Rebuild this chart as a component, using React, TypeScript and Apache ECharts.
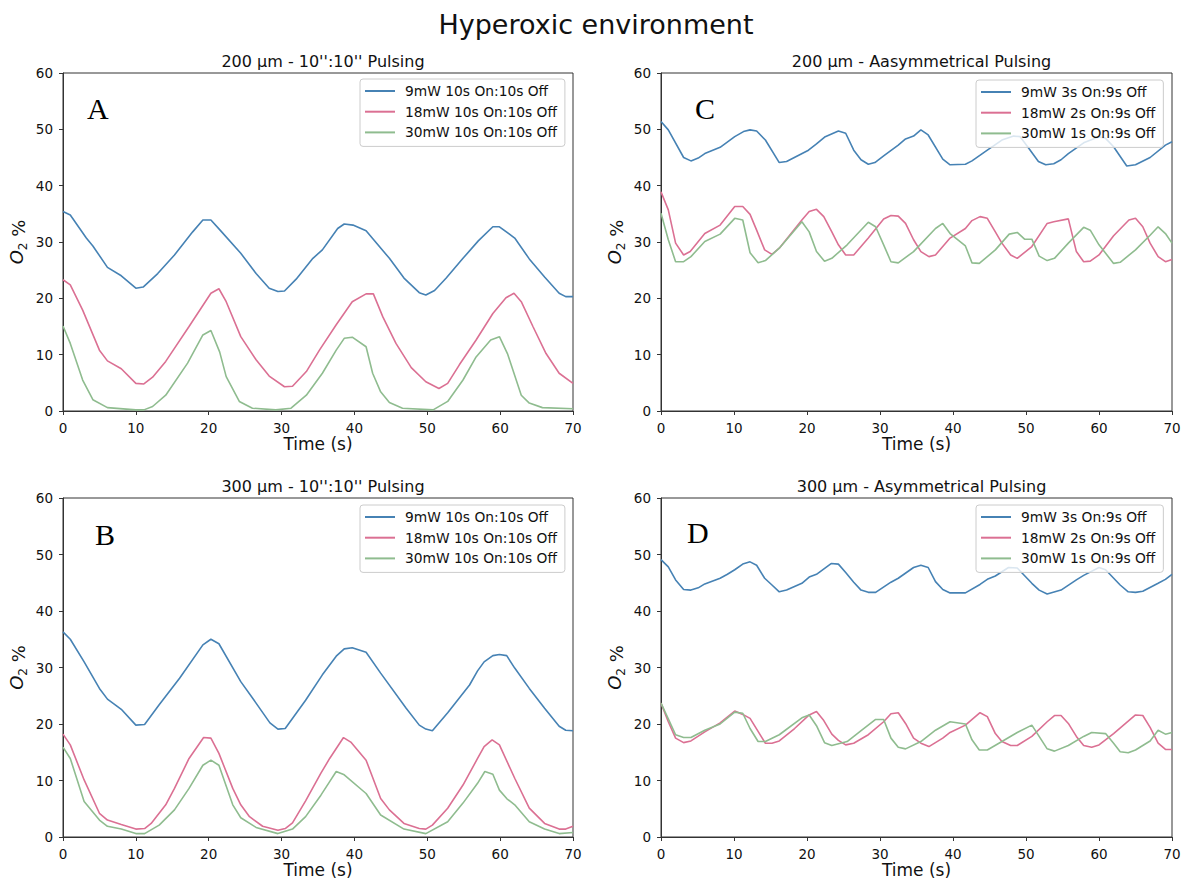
import React, { useEffect, useRef } from "react";
import * as echarts from "echarts";

const FONT = "DejaVu Sans";
const BLUE = "#4682b4";
const PINK = "#db7093";
const GREEN = "#8fbc8f";

const titleMain = "Hyperoxic environment";
const panelTitles = [
  "200 µm - 10'':10'' Pulsing",
  "200 µm - Aasymmetrical Pulsing",
  "300 µm - 10'':10'' Pulsing",
  "300 µm - Asymmetrical Pulsing",
];
const panelLetters = ["A", "C", "B", "D"];
const namesSym = ["9mW 10s On:10s Off", "18mW 10s On:10s Off", "30mW 10s On:10s Off"];
const namesAsym = ["9mW 3s On:9s Off", "18mW 2s On:9s Off", "30mW 1s On:9s Off"];
const xTicks = [0, 10, 20, 30, 40, 50, 60, 70];
const yTicks = [0, 10, 20, 30, 40, 50, 60];

// Panel A (200 µm, 10:10)
const aBlue = [[0,35.4],[1,34.8],[3.2,30.7],[4.1,29.3],[6.1,25.5],[8,24.0],[10,21.8],[11,22.0],[13,24.4],[15.3,27.7],[17.8,31.8],[19.2,33.9],[20.3,33.9],[21.5,32.2],[24.4,28.0],[26.5,24.4],[28.3,21.8],[29.5,21.2],[30.4,21.3],[32,23.4],[34.3,27.1],[35.6,28.6],[37.7,32.4],[38.6,33.2],[39.8,33.0],[41.6,32.0],[44.8,27.1],[46.8,23.6],[48.9,21.0],[49.8,20.6],[51,21.4],[52.6,23.6],[54.9,27.1],[57,30.2],[59,32.7],[59.9,32.7],[62,30.7],[64,27.0],[66.1,23.8],[68.1,20.9],[69,20.3],[70,20.3]];
const aPink = [[0,23.3],[1,22.4],[2.7,17.9],[5,10.8],[6.1,8.9],[8,7.5],[10,4.9],[11.1,4.8],[12.3,6.0],[14.1,8.8],[17.3,15.0],[20.3,20.9],[21.4,21.7],[22.4,19.4],[24.4,13.2],[26.5,9.1],[28.3,6.2],[30.4,4.3],[31.5,4.4],[33.4,7.0],[35.2,10.8],[37.5,15.3],[39.7,19.4],[41.6,20.8],[42.6,20.8],[43.9,16.7],[45.7,12.0],[47.8,7.7],[49.8,5.2],[51.6,4.0],[52.8,4.9],[54.4,8.2],[56.7,12.6],[59,17.3],[60.8,20.1],[61.9,20.9],[62.9,19.4],[64.5,15.0],[66.3,10.2],[68.1,6.7],[70,4.9]];
const aGreen = [[0,15.1],[1,12.0],[2.7,5.5],[4.1,2.0],[6.1,0.6],[10,0.2],[11.1,0.2],[12.3,0.8],[14.1,2.8],[17.1,8.5],[19.2,13.5],[20.3,14.3],[21.5,10.5],[22.4,6.1],[24.2,1.7],[26,0.5],[29.2,0.2],[31.3,0.5],[33.4,2.8],[35.6,6.7],[37.5,10.8],[38.6,12.9],[39.7,13.1],[41.6,11.4],[42.5,6.7],[43.6,3.4],[44.8,1.5],[46.6,0.5],[50.8,0.2],[52.8,1.7],[54.9,5.5],[56.7,9.6],[58.7,12.6],[59.9,13.2],[61,10.2],[62.9,2.8],[64,1.4],[65.8,0.6],[70,0.4]];

// Panel C (200 µm, asymmetrical)
const cBlue = [[0,51.4],[1,49.9],[3.1,45.0],[4.1,44.4],[5.1,44.9],[6,45.7],[8.1,46.8],[10.1,48.7],[11.3,49.6],[12.2,49.9],[13.1,49.7],[14.3,48.1],[16.2,44.1],[17.2,44.3],[20.2,46.3],[21.3,47.4],[22.5,48.7],[24.3,49.7],[25.3,49.3],[26.4,46.3],[27.4,44.6],[28.4,43.8],[29.3,44.1],[30.5,45.3],[32.5,47.2],[33.5,48.3],[34.6,48.8],[35.6,49.9],[36.6,49.0],[38.6,44.7],[39.6,43.7],[41.7,43.8],[42.6,44.4],[44.7,46.3],[46.7,48.1],[48.3,48.8],[49.2,48.7],[50.4,46.6],[51.7,44.3],[52.7,43.7],[53.8,43.9],[54.8,44.6],[55.8,45.7],[57.9,47.6],[60,48.7],[60.9,48.4],[62,46.9],[63.8,43.5],[65,43.7],[67,45.0],[69.1,47.2],[70,47.8]];
const cPink = [[0,38.9],[1,35.7],[2,29.8],[3.1,27.7],[4,28.3],[6,31.5],[8.1,33.0],[10.1,36.3],[11.2,36.3],[12.2,34.9],[13.1,32.1],[14.2,28.6],[15.2,27.8],[16.2,28.9],[19.3,33.9],[20.3,35.4],[21.3,35.8],[22.3,34.5],[23.4,31.8],[24.3,29.5],[25.3,27.7],[26.4,27.7],[28.4,30.7],[30.5,34.1],[31.5,34.7],[32.5,34.6],[33.5,33.3],[34.6,30.4],[35.6,28.3],[36.7,27.4],[37.6,27.7],[39.6,30.7],[41.7,32.4],[42.6,33.8],[43.7,34.5],[44.7,34.2],[45.8,31.8],[46.7,29.8],[47.9,27.7],[48.8,27.1],[50.8,29.2],[52.9,33.3],[53.8,33.6],[55.8,34.1],[56.9,28.3],[57.9,26.5],[58.8,26.6],[60,27.7],[62,31.1],[64.1,33.9],[65,34.2],[66,32.7],[67,29.8],[68.1,27.4],[69.1,26.5],[70,26.9]];
const cGreen = [[0,35.1],[1,30.4],[2,26.5],[3.1,26.5],[4.1,27.4],[6,30.1],[8.1,31.4],[10.1,34.2],[11.2,33.9],[12.2,28.1],[13.3,26.3],[14.3,26.7],[16.2,28.9],[19.3,33.6],[20.3,31.8],[21.3,28.3],[22.4,26.6],[23.4,27.1],[25.5,29.5],[28.4,33.5],[29.4,32.7],[30.5,29.5],[31.5,26.5],[32.5,26.3],[34.6,28.3],[37.6,32.4],[38.6,33.3],[39.6,31.5],[41.7,29.3],[42.6,26.3],[43.6,26.2],[45.8,28.6],[47.7,31.4],[48.8,31.7],[49.8,30.5],[50.8,30.5],[51.8,27.5],[52.9,26.7],[53.9,27.1],[55.8,29.8],[57.9,32.6],[58.8,32.1],[60,29.5],[62,26.2],[62.9,26.4],[65,28.6],[67,31.2],[68.1,32.7],[69.1,31.5],[70,29.8]];

// Panel B (300 µm, 10:10)
const bBlue = [[0,36.3],[1,35.0],[2.9,31.0],[5,26.3],[6.1,24.4],[8,22.6],[10,19.8],[11.2,19.9],[13.2,23.4],[16,28.1],[19.2,34.0],[20.3,35.0],[21.4,34.2],[24.4,27.5],[26.5,23.7],[28.4,20.2],[29.5,19.1],[30.5,19.2],[33.3,24.2],[35.6,28.7],[37.5,32.0],[38.6,33.3],[39.7,33.5],[41.6,32.7],[43.6,29.0],[47.1,22.8],[48.9,19.8],[49.8,19.1],[50.7,18.8],[52.8,22.0],[55.8,26.9],[56.9,29.4],[57.8,31.0],[59,32.1],[59.9,32.3],[60.9,32.1],[62,29.9],[64,26.3],[66.1,22.8],[68.1,19.6],[69,18.9],[70,18.8]];
const bPink = [[0,18.2],[1,16.3],[2.9,10.1],[5,4.2],[6.1,3.0],[8,2.2],[10,1.4],[11.2,1.5],[12.1,2.4],[14.1,5.7],[15.3,8.6],[17.3,13.9],[19.3,17.6],[20.3,17.5],[21.4,14.8],[23.3,8.6],[24.4,5.7],[25.6,3.6],[27.4,1.9],[29.5,1.2],[30.5,1.5],[31.5,2.5],[33.3,6.4],[35.4,11.3],[36.6,13.9],[38.5,17.6],[39.5,16.8],[41.6,13.6],[43.6,6.8],[44.8,4.8],[46.8,2.4],[48.9,1.5],[49.8,1.4],[50.7,2.1],[52.8,5.1],[54.9,9.2],[56.9,13.9],[57.8,16.0],[58.9,17.2],[59.9,16.3],[62,10.4],[64,5.1],[66.1,2.4],[68.1,1.4],[69,1.4],[70,1.9]];
const bGreen = [[0,15.9],[1,13.9],[2.9,6.3],[5,3.0],[6.1,1.9],[8,1.4],[10,0.6],[11.2,0.6],[13.2,2.1],[15.3,4.8],[17.3,8.6],[19.2,12.7],[20.3,13.6],[21.4,12.7],[23.3,5.7],[24.4,3.4],[26.5,1.7],[29.5,0.6],[31.5,1.4],[33.3,3.6],[35.4,7.4],[36.6,9.8],[37.5,11.6],[38.6,11.0],[41.6,7.7],[43.6,3.9],[46.8,1.4],[49.8,0.6],[52.8,2.7],[54.9,6.0],[56.9,9.5],[57.9,11.6],[59,11.1],[59.9,8.3],[60.9,6.8],[62,5.7],[64,2.7],[66.1,1.4],[68.1,0.6],[70,0.8]];

// Panel D (300 µm, asymmetrical)
const dBlue = [[0,49.1],[1,47.8],[2,45.5],[3.1,43.8],[4.1,43.7],[5.1,44.1],[6,44.8],[8.1,45.8],[9.1,46.5],[10.1,47.3],[11.2,48.3],[12.2,48.7],[13.1,48.1],[14.2,45.8],[15.2,44.6],[16.2,43.4],[17.2,43.7],[19.3,44.9],[20.3,46.0],[21.3,46.5],[23.3,48.4],[24.3,48.3],[25.3,46.8],[26.4,45.1],[27.4,43.7],[28.4,43.3],[29.4,43.3],[31.5,45.1],[32.5,45.8],[34.6,47.7],[35.6,48.1],[36.6,47.7],[37.6,45.2],[38.6,43.8],[39.6,43.2],[41.7,43.2],[43.7,44.7],[44.7,45.6],[45.8,46.2],[47.6,47.7],[48.8,47.6],[50.8,44.9],[51.8,43.7],[52.9,43.0],[54.8,43.7],[56.9,45.5],[57.9,46.3],[60,47.7],[60.9,47.3],[62.9,44.6],[64,43.4],[65,43.3],[66,43.5],[68.1,44.9],[69.1,45.6],[70,46.5]];
const dPink = [[0,23.7],[1,20.4],[2,17.5],[3.1,16.7],[4.1,17.0],[6,18.6],[8.1,20.2],[10.1,22.3],[11.2,21.7],[12.2,21.0],[14.3,16.6],[15.2,16.6],[16.2,17.0],[18.3,19.2],[20.3,21.6],[21.3,22.2],[22.3,20.6],[23.4,18.2],[24.3,17.1],[25.3,16.3],[26.4,16.6],[28.4,18.1],[30.5,20.4],[31.5,21.8],[32.5,22.0],[33.5,20.1],[34.6,17.5],[35.6,16.6],[36.7,16.0],[38.6,17.5],[39.6,18.5],[41.7,19.8],[43.7,22.0],[44.7,21.3],[45.8,18.3],[46.7,16.9],[47.9,16.2],[48.8,16.2],[50.8,17.8],[52.9,20.4],[53.9,21.5],[54.8,21.5],[55.8,20.1],[56.9,17.8],[57.9,16.2],[59,15.9],[60,16.3],[62,18.3],[65,21.6],[66,21.5],[67,19.4],[68.1,16.6],[69.1,15.5],[70,15.5]];
const dGreen = [[0,23.7],[1,20.9],[2,18.1],[3.1,17.6],[4.1,17.6],[6,18.9],[8.1,20.0],[10.1,22.1],[11.2,21.9],[12.2,19.2],[13.3,16.9],[14.3,16.9],[16.2,18.1],[19.3,21.1],[20.3,21.6],[21.3,19.7],[22.4,16.7],[23.4,16.2],[25.5,16.9],[27.5,18.9],[29.4,20.8],[30.5,20.8],[31.5,17.5],[32.5,15.9],[33.5,15.6],[35.6,16.9],[37.6,18.9],[39.6,20.4],[41.7,20.0],[42.6,17.2],[43.6,15.4],[44.7,15.4],[46.7,16.9],[48.8,18.5],[50.8,19.8],[51.8,17.8],[52.9,15.6],[53.9,15.2],[55.8,16.2],[57.9,17.8],[59,18.5],[60.9,18.3],[62,16.6],[62.9,15.1],[64,14.9],[65,15.4],[67,17.0],[68.1,18.9],[69.1,18.2],[70,18.5]];

const panelData = [
  [aBlue, aPink, aGreen],
  [cBlue, cPink, cGreen],
  [bBlue, bPink, bGreen],
  [dBlue, dPink, dGreen],
];
const panelNames = [namesSym, namesAsym, namesSym, namesAsym];

// layout (pixels)
const grids = [
  { left: 63, top: 73, width: 510, height: 338 },
  { left: 661, top: 73, width: 511, height: 338 },
  { left: 63, top: 498, width: 510, height: 339 },
  { left: 661, top: 498, width: 511, height: 339 },
];
const legendPos = [
  { left: 360, top: 79 },
  { left: 976, top: 80 },
  { left: 360, top: 505 },
  { left: 976, top: 505 },
];
const letterPos = [
  { x: 87, y: 108 },
  { x: 695, y: 108 },
  { x: 95, y: 534 },
  { x: 687, y: 532 },
];

export default function App() {
  const ref = useRef<HTMLDivElement>(null);
  useEffect(() => {
    document.body.style.margin = "0";
    const chart = echarts.init(ref.current!, null, { renderer: "svg" });
    const colors = [BLUE, PINK, GREEN];
    const series: any[] = [];
    panelData.forEach((lines, p) => {
      lines.forEach((d, k) => {
        series.push({
          type: "line",
          name: panelNames[p][k],
          xAxisIndex: p,
          yAxisIndex: p,
          data: d,
          symbol: "none",
          showSymbol: false,
          lineStyle: { color: colors[k], width: 1.6 },
          itemStyle: { color: colors[k] },
          z: 2,
        });
      });
    });
    const axisCommon = {
      axisLine: { show: true, lineStyle: { color: "#333", width: 1 } },
      axisTick: { show: true, inside: false, length: 4, lineStyle: { color: "#333" } },
      splitLine: { show: false },
      axisLabel: { color: "#111", fontSize: 13.5, fontFamily: FONT },
    };
    const option: any = {
      animation: false,
      backgroundColor: "#fff",
      title: [
        {
          text: titleMain,
          left: "center",
          top: 6,
          textStyle: { fontFamily: FONT, fontSize: 27, fontWeight: "normal", color: "#111" },
        },
        ...panelTitles.map((t, i) => ({
          text: t,
          left: grids[i].left + grids[i].width / 2,
          textAlign: "center",
          top: grids[i].top - 25,
          textStyle: { fontFamily: FONT, fontSize: 16, fontWeight: "normal", color: "#111" },
        })),
      ],
      grid: grids.map((g) => ({
        ...g,
        show: true,
        borderColor: "#333",
        borderWidth: 1,
        backgroundColor: "transparent",
        containLabel: false,
      })),
      xAxis: grids.map((_, i) => ({
        type: "value",
        gridIndex: i,
        min: xTicks[0],
        max: xTicks[xTicks.length - 1],
        interval: 10,
        name: "Time (s)",
        nameLocation: "middle",
        nameGap: 22,
        nameTextStyle: { fontFamily: FONT, fontSize: 17, color: "#111" },
        ...axisCommon,
        axisLabel: { ...axisCommon.axisLabel, margin: 10 },
      })),
      yAxis: grids.map((_, i) => ({
        type: "value",
        gridIndex: i,
        min: yTicks[0],
        max: yTicks[yTicks.length - 1],
        interval: 10,
        name: "{i|O}{s|2} %",
        nameLocation: "middle",
        nameGap: 34,
        nameTextStyle: {
          fontFamily: FONT,
          fontSize: 18,
          color: "#111",
          rich: {
            i: { fontFamily: FONT, fontStyle: "italic", fontSize: 18, color: "#111", padding: [0, 0, 4, 0], verticalAlign: "bottom" },
            s: { fontFamily: FONT, fontSize: 12, color: "#111", verticalAlign: "bottom" },
          },
        },
        ...axisCommon,
        axisLabel: { ...axisCommon.axisLabel, margin: 10 },
      })),
      legend: legendPos.map((pos, i) => ({
        ...pos,
        orient: "vertical",
        data: panelNames[i],
        icon: "rect",
        itemWidth: 30,
        itemHeight: 2,
        itemGap: 4.7,
        padding: [4, 8, 6, 5],
        backgroundColor: "rgba(255,255,255,0.8)",
        borderColor: "#ccc",
        borderWidth: 1,
        borderRadius: 3,
        selectedMode: false,
        textStyle: { fontFamily: FONT, fontSize: 13.8, color: "#111", lineHeight: 16, padding: [0, 0, 0, 5] },
        z: 5,
      })),
      graphic: panelLetters.map((L, i) => ({
        type: "text",
        x: letterPos[i].x,
        y: letterPos[i].y,
        z: 10,
        style: {
          text: L,
          font: "30px 'Liberation Serif'",
          fill: "#000",
          textAlign: "left",
          textVerticalAlign: "middle",
        },
      })),
      series,
    };
    chart.setOption(option);
    return () => chart.dispose();
  }, []);
  return <div ref={ref} style={{ position: "absolute", left: 0, top: 0, width: 1192, height: 886 }} />;
}
